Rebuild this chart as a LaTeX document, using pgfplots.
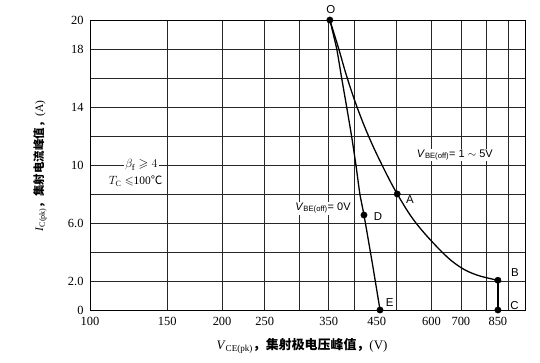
\documentclass[border=0pt]{standalone}
\usepackage{pgfplots}
\pgfplotsset{compat=1.18}
\usepackage{amssymb}
\usepackage{fontspec}
\setmainfont{Liberation Serif}
\newfontfamily\cjk{Noto Sans CJK SC}
\newfontfamily\lsans{Liberation Sans}
\begin{document}
\begin{tikzpicture}
\begin{axis}[name=ax, at={(0,0)}, anchor=south west,
  scale only axis, width=435bp, height=290bp,
  xmode=log, log basis x=10, xmin=100, xmax=980, ymin=0, ymax=20,
  xtick={100,150,200,250,350,450,600,700,850},
  xticklabels={100,150,200,250,350,450,600,700,850},
  minor xtick={150,200,250,300,350,400,500,600,700,800,900},
  ytick={0,2,6,10,14,18,20},
  yticklabels={0,2.0,6.0,10,14,18,20},
  minor ytick={2,4,6,8,10,12,14,16,18},
  xminorgrids, yminorgrids,
  minor grid style={black!85, line width=0.7pt},
  major tick length=0pt, minor tick length=0pt,
  axis line style={black, line width=0.9pt},
  tick label style={font=\fontsize{12.5}{14}\selectfont},
  xticklabel style={yshift=-4bp},
  yticklabel style={xshift=-3bp},
  /pgf/number format/assume math mode=true,
  clip=false,
]
% curve O-A-B (V_BE(off)=1~5V)
\addplot[black, line width=1.3pt, smooth, tension=0.6] coordinates {
 (352,20) (368.3,18.07) (385.0,16.07) (405.9,14.0) (432.1,11.93) (462.8,10.0)
 (501.3,8.0) (553.0,6.0) (633.9,4.0) (696.6,2.97) (761.6,2.41) (850,2.05)};
% B-C
\addplot[black, line width=1.3pt] coordinates {(850,2.05) (850,0)};
% curve O-D-E (V_BE(off)=0V)
\addplot[black, line width=1.3pt, smooth, tension=0.3] coordinates {
 (352,20) (365,18) (374.5,16) (384.5,14) (394.5,12) (403.6,10) (412,8) (421,6.55) (440,3.2) (458,0)};
% points
\addplot[only marks, mark=*, mark size=3.2pt, black] coordinates {
 (352,20) (501.3,8) (850,2.05) (850,0) (421,6.55) (458,0)};
% annotations
\node[fill=white, inner sep=1pt, font=\fontsize{12.5}{14}\selectfont] at (axis cs:131,10.0) {$\beta_{\mathrm{f}}\geqslant 4$};
\node[fill=white, inner sep=1pt, font=\fontsize{11.5}{13}\selectfont] at (axis cs:127,8.9) {$T_{\mathrm{C}}\leqslant$100{\cjk ℃}};
\node[fill=white, inner sep=1pt, font=\lsans\fontsize{11}{13}\selectfont] at (axis cs:678,10.69) {\textit{V}\textsubscript{BE(off)}= 1 $\sim$ 5V};
\node[fill=white, inner sep=1pt, font=\lsans\fontsize{11}{13}\selectfont] at (axis cs:339.5,7.03) {\textit{V}\textsubscript{BE(off)}= 0V};
\begin{scope}[every node/.style={font=\lsans\fontsize{11.5}{13}\selectfont, inner sep=0pt}]
\node at (axis cs:354,20.69) {O};
\node at (axis cs:536,7.59) {A};
\node at (axis cs:453,6.41) {D};
\node at (axis cs:929,2.55) {B};
\node at (axis cs:927,0.28) {C};
\node at (axis cs:482,0.48) {E};
\end{scope}
\end{axis}
\node[font=\fontsize{13}{15}\selectfont] at ([shift={(212bp,-36bp)}]ax.south west)
  {\textit{V}\textsubscript{CE(pk)}{\cjk\bfseries ，集射极电压峰值，}(V)};
\node[rotate=90, font=\fontsize{11.5}{13}\selectfont] at ([shift={(-50bp,144bp)}]ax.south west)
  {\textit{I}\textsubscript{C(pk)}{\cjk\bfseries ，集射电流峰值，}(A)};
\pgfresetboundingbox
\path ([shift={(-90bp,-53bp)}]ax.south west) rectangle ([shift={(15bp,20bp)}]ax.north east);
\end{tikzpicture}
\end{document}
